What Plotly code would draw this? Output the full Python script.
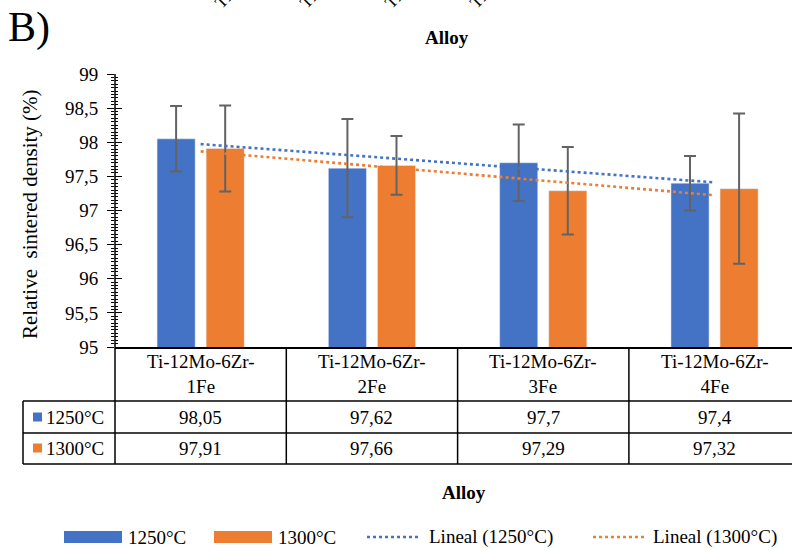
import numpy as np
import plotly.graph_objects as go

# ---- data -------------------------------------------------------------
alloys = ["Ti-12Mo-6Zr-1Fe", "Ti-12Mo-6Zr-2Fe", "Ti-12Mo-6Zr-3Fe", "Ti-12Mo-6Zr-4Fe"]
series_names = ["1250°C", "1300°C"]
density_1250 = [98.05, 97.62, 97.70, 97.40]
density_1300 = [97.91, 97.66, 97.29, 97.32]
err_1250 = [0.48, 0.72, 0.56, 0.40]
err_1300 = [0.63, 0.43, 0.64, 1.10]
y_ticks = [95, 95.5, 96, 96.5, 97, 97.5, 98, 98.5, 99]

# ---- styling ----------------------------------------------------------
BLUE = "#4472C4"
ORANGE = "#ED7D31"
FONT = "'Liberation Serif', 'Times New Roman', Times, serif"
FS = 19
W, H = 792, 550
ML, MT, MB = 115, 74, 203
PW, PH = W - ML, H - MT - MB
CAT_PX = 171.3  # pixel width of one category slot


def px_x(px):
    return (px - ML) / PW


def px_y(py):
    return (H - MB - py) / PH


def comma(v):
    return f"{v:g}".replace(".", ",")


def label(x, y, text, xref="paper", xanchor="center", size=FS, **kw):
    d = dict(x=x, xref=xref, y=y, yref="paper", showarrow=False, text=text,
             xanchor=xanchor, yanchor=kw.pop("yanchor", "middle"),
             font=dict(size=size, family=FONT, color="black"))
    d.update(kw)
    return d


fig = go.Figure()

fig.add_trace(go.Bar(
    x=alloys, y=density_1250, name=series_names[0], marker_color=BLUE,
    error_y=dict(type="data", array=err_1250, color="#636363", thickness=2, width=6),
    showlegend=False,
))
fig.add_trace(go.Bar(
    x=alloys, y=density_1300, name=series_names[1], marker_color=ORANGE,
    error_y=dict(type="data", array=err_1300, color="#636363", thickness=2, width=6),
    showlegend=False,
))

# Linear trend lines fitted on the category index
idx = np.arange(len(alloys))
for vals, col, nm in [(density_1250, BLUE, series_names[0]),
                      (density_1300, ORANGE, series_names[1])]:
    k, b = np.polyfit(idx, vals, 1)
    fig.add_trace(go.Scatter(
        x=alloys, y=k * idx + b, mode="lines", name=f"Lineal ({nm})",
        line=dict(color=col, width=2.6, dash="3px,3px"), showlegend=False,
        hoverinfo="skip",
    ))

# Twin axis used only for the inward half of the crossing tick marks
fig.add_trace(go.Scatter(x=alloys, y=density_1250, yaxis="y2", mode="markers",
                         marker=dict(opacity=0), showlegend=False, hoverinfo="skip"))

x_range = [-0.5, -0.5 + PW / CAT_PX]

fig.update_layout(
    width=W, height=H,
    margin=dict(l=ML, r=0, t=MT, b=MB),
    paper_bgcolor="white", plot_bgcolor="white",
    separators=",.",
    barmode="group", bargap=0.427, bargroupgap=0.224,
    font=dict(family=FONT, size=FS, color="black"),
    xaxis=dict(range=x_range, showticklabels=False, ticks="", showgrid=False,
               showline=True, linecolor="black", linewidth=1.5, zeroline=False),
    yaxis=dict(range=[95, 99], tickvals=y_ticks, ticks="outside", ticklen=7,
               tickcolor="black", tickwidth=1.2, showgrid=False, zeroline=False,
               showline=False, tickfont=dict(size=FS, family=FONT, color="black"),
               ticklabelstandoff=5,
               minor=dict(dtick=0.05, ticks="outside", ticklen=3, tickcolor="black",
                          tickwidth=1)),
    yaxis2=dict(range=[95, 99], overlaying="y", side="left", anchor="x",
                tickvals=y_ticks, ticks="inside", ticklen=7, tickcolor="black",
                tickwidth=1.2, showticklabels=False, showgrid=False, zeroline=False,
                showline=False,
                minor=dict(dtick=0.05, ticks="inside", ticklen=3, tickcolor="black",
                           tickwidth=1)),
)

shapes = []
ann = []
line_kw = dict(color="black", width=1.5)

# Y axis line, continued down through the data table
shapes.append(dict(type="line", xref="paper", yref="paper", x0=0, x1=0,
                   y0=px_y(464), y1=1, line=line_kw))
# Table horizontal rules
for py in (401, 433, 464):
    shapes.append(dict(type="line", xref="paper", yref="paper",
                       x0=px_x(23), x1=1, y0=px_y(py), y1=px_y(py), line=line_kw))
# Left legend column border
shapes.append(dict(type="line", xref="paper", yref="paper", x0=px_x(23), x1=px_x(23),
                   y0=px_y(464), y1=px_y(401), line=line_kw))
# Category separators
for i in range(1, len(alloys)):
    shapes.append(dict(type="line", xref="x", yref="paper", x0=i - 0.5, x1=i - 0.5,
                       y0=px_y(464), y1=0, line=line_kw))

# Table contents
for a in alloys:
    head, tail = a.split("Zr-")
    ann.append(label(a, px_y(374), f"{head}Zr-<br>{tail}", xref="x"))
for vals, py in [(density_1250, 417), (density_1300, 448)]:
    for a, v in zip(alloys, vals):
        ann.append(label(a, px_y(py), comma(v), xref="x"))
for nm, col, py in [(series_names[0], BLUE, 417), (series_names[1], ORANGE, 448)]:
    shapes.append(dict(type="rect", xref="paper", yref="paper", x0=px_x(33), x1=px_x(42),
                       y0=px_y(py + 4.5), y1=px_y(py - 4.5), fillcolor=col, line_width=0))
    ann.append(label(px_x(44), px_y(py), nm, xanchor="left"))

# Titles
ann.append(label(px_x(447), px_y(37), "<b>Alloy</b>"))
ann.append(label(px_x(464), px_y(493), "<b>Alloy</b>"))
ann.append(label(px_x(30), px_y(214), "Relative  sintered density (%)", textangle=-90,
                 size=21))
ann.append(label(px_x(6), px_y(28), "B)", xanchor="left", size=42))

# Rotated labels of the panel above, running off the top edge
for i, a in enumerate(alloys):
    ann.append(label(px_x(208 + 85 * i), px_y(15), a, xanchor="left",
                     yanchor="bottom", textangle=-45, size=17))

# Legend below the table
lg = 537
shapes.append(dict(type="rect", xref="paper", yref="paper", x0=px_x(64), x1=px_x(122),
                   y0=px_y(lg + 6), y1=px_y(lg - 6), fillcolor=BLUE, line_width=0))
ann.append(label(px_x(126), px_y(lg), series_names[0], xanchor="left"))
shapes.append(dict(type="rect", xref="paper", yref="paper", x0=px_x(214), x1=px_x(272),
                   y0=px_y(lg + 6), y1=px_y(lg - 6), fillcolor=ORANGE, line_width=0))
ann.append(label(px_x(276), px_y(lg), series_names[1], xanchor="left"))
shapes.append(dict(type="line", xref="paper", yref="paper", x0=px_x(367), x1=px_x(421),
                   y0=px_y(lg), y1=px_y(lg), line=dict(color=BLUE, width=2.6, dash="3px,3px")))
ann.append(label(px_x(427), px_y(lg), f"Lineal ({series_names[0]})", xanchor="left"))
shapes.append(dict(type="line", xref="paper", yref="paper", x0=px_x(593), x1=px_x(647),
                   y0=px_y(lg), y1=px_y(lg), line=dict(color=ORANGE, width=2.6, dash="3px,3px")))
ann.append(label(px_x(651), px_y(lg), f"Lineal ({series_names[1]})", xanchor="left"))

fig.update_layout(shapes=shapes, annotations=ann)

fig.write_html("out.html")
